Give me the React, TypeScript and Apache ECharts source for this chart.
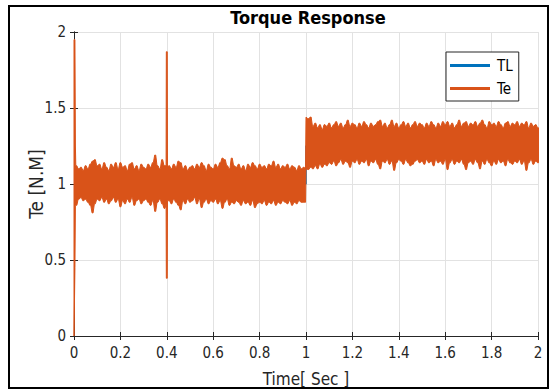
import { useEffect, useRef } from "react";
import * as echarts from "echarts";

// Axis ticks
const xTickValues = [0, 0.2, 0.4, 0.6, 0.8, 1, 1.2, 1.4, 1.6, 1.8, 2];
const yTickValues = [0, 0.5, 1, 1.5, 2];

// Load torque TL (step at t = 1 s)
const tlTime = [0, 1, 1, 2];
const tlValue = [1, 1, 1.25, 1.25];

// Electromagnetic torque Te: noise band envelope sampled every 0.01 s, t = 0.01 .. 2.00
const teGridStart = 0.01;
const teGridStep = 0.01;
const teUpper = [
  1.12, 1.10, 1.11, 1.09, 1.12, 1.10, 1.13, 1.15, 1.16, 1.12,
  1.13, 1.10, 1.14, 1.11, 1.09, 1.13, 1.11, 1.14, 1.10, 1.14,
  1.11, 1.12, 1.09, 1.13, 1.14, 1.10, 1.12, 1.09, 1.13, 1.11,
  1.10, 1.13, 1.11, 1.14, 1.19, 1.12, 1.10, 1.16, 1.12, 1.87,
  1.12, 1.10, 1.13, 1.11, 1.15, 1.14, 1.10, 1.12, 1.09, 1.11,
  1.12, 1.10, 1.13, 1.11, 1.14, 1.12, 1.09, 1.13, 1.11, 1.10,
  1.13, 1.11, 1.14, 1.17, 1.16, 1.12, 1.10, 1.17, 1.12, 1.11,
  1.13, 1.10, 1.12, 1.09, 1.13, 1.11, 1.14, 1.12, 1.10, 1.13,
  1.11, 1.12, 1.10, 1.13, 1.12, 1.15, 1.11, 1.13, 1.10, 1.12,
  1.11, 1.13, 1.10, 1.12, 1.11, 1.09, 1.12, 1.10, 1.11, 1.44,
  1.43, 1.44, 1.38, 1.40, 1.37, 1.39, 1.36, 1.39, 1.38, 1.40,
  1.37, 1.39, 1.41, 1.38, 1.40, 1.37, 1.39, 1.42, 1.38, 1.40,
  1.39, 1.37, 1.40, 1.38, 1.41, 1.39, 1.37, 1.40, 1.38, 1.39,
  1.41, 1.42, 1.38, 1.40, 1.37, 1.39, 1.42, 1.38, 1.40, 1.37,
  1.39, 1.41, 1.38, 1.40, 1.37, 1.39, 1.41, 1.38, 1.40, 1.39,
  1.37, 1.40, 1.38, 1.41, 1.39, 1.37, 1.40, 1.38, 1.41, 1.39,
  1.41, 1.38, 1.40, 1.37, 1.39, 1.42, 1.38, 1.40, 1.41, 1.38,
  1.40, 1.39, 1.41, 1.38, 1.40, 1.42, 1.39, 1.37, 1.41, 1.39,
  1.40, 1.38, 1.41, 1.39, 1.37, 1.40, 1.41, 1.38, 1.40, 1.39,
  1.41, 1.38, 1.40, 1.39, 1.41, 1.37, 1.40, 1.38, 1.39, 1.37,
];
const teLower = [
  0.86, 0.90, 0.91, 0.89, 0.90, 0.88, 0.86, 0.81, 0.87, 0.90,
  0.89, 0.91, 0.88, 0.90, 0.87, 0.89, 0.91, 0.88, 0.90, 0.85,
  0.89, 0.87, 0.90, 0.88, 0.91, 0.86, 0.89, 0.90, 0.87, 0.89,
  0.90, 0.88, 0.86, 0.89, 0.82, 0.88, 0.90, 0.87, 0.84, 0.38,
  0.89, 0.87, 0.90, 0.88, 0.86, 0.83, 0.89, 0.87, 0.90, 0.88,
  0.89, 0.91, 0.87, 0.90, 0.845, 0.88, 0.90, 0.87, 0.89, 0.88,
  0.90, 0.87, 0.89, 0.84, 0.88, 0.90, 0.86, 0.88, 0.87, 0.89,
  0.88, 0.86, 0.89, 0.87, 0.88, 0.86, 0.89, 0.845, 0.87, 0.88,
  0.87, 0.89, 0.86, 0.88, 0.87, 0.89, 0.86, 0.88, 0.87, 0.89,
  0.88, 0.87, 0.89, 0.86, 0.88, 0.87, 0.89, 0.88, 0.88, 1.10,
  1.095, 1.11, 1.10, 1.12, 1.10, 1.13, 1.11, 1.13, 1.12, 1.14,
  1.13, 1.15, 1.12, 1.14, 1.16, 1.13, 1.15, 1.14, 1.11, 1.15,
  1.14, 1.16, 1.13, 1.15, 1.14, 1.16, 1.12, 1.15, 1.14, 1.16,
  1.13, 1.10, 1.15, 1.14, 1.16, 1.13, 1.15, 1.09, 1.14, 1.16,
  1.15, 1.13, 1.16, 1.14, 1.12, 1.13, 1.15, 1.16, 1.14, 1.15,
  1.13, 1.16, 1.14, 1.15, 1.12, 1.16, 1.14, 1.15, 1.13, 1.16,
  1.095, 1.14, 1.16, 1.13, 1.15, 1.14, 1.16, 1.13, 1.095, 1.14,
  1.15, 1.13, 1.16, 1.14, 1.10, 1.15, 1.13, 1.16, 1.14, 1.12,
  1.15, 1.13, 1.16, 1.14, 1.15, 1.12, 1.16, 1.14, 1.13, 1.15,
  1.14, 1.16, 1.13, 1.15, 1.09, 1.14, 1.16, 1.13, 1.15, 1.14,
];
// Transients: [time, upper, lower] (start-up, disturbance spike at 0.4 s, load step edge)
const teEvents = [
  [0, 1.95, 0],
  [0.004, 1.95, 0.45],
  [0.006, 1.25, 0.86],
  [0.397, 1.12, 0.87],
  [0.398, 1.87, 0.38],
  [0.402, 1.87, 0.38],
  [0.403, 1.11, 0.89],
  [0.998, 1.1, 0.88],
];

const TE_COLOR = "#D95319";
const TL_COLOR = "#0072BD";
const AXIS_COLOR = "#262626";
const FONT = "'Liberation Sans Narrow', 'DejaVu Sans Condensed', 'Liberation Sans', Arial, sans-serif";

export default function App() {
  const ref = useRef<HTMLDivElement>(null);

  useEffect(() => {
    if (!ref.current) return;
    const chart = echarts.init(ref.current, undefined, { renderer: "svg" });

    // Grid samples are held for a short plateau (sample-and-hold look of the simulation trace)
    const half = 0.0022;
    const tePoints: number[][] = [];
    teUpper.forEach((u, i) => {
      const t = Math.round((teGridStart + i * teGridStep) * 1000) / 1000;
      const isEdge = t === 0.4 || t === 1;
      if (isEdge) {
        tePoints.push([t, u, teLower[i]]);
      } else {
        tePoints.push([t - half, u, teLower[i]]);
        tePoints.push([t + half, u, teLower[i]]);
      }
    });
    teEvents.forEach((e) => tePoints.push(e));
    tePoints.sort((a, b) => a[0] - b[0]);

    const tlData = tlTime.map((t, i) => [t, tlValue[i]]);

    const axisCommon = {
      axisLine: { show: true, lineStyle: { color: AXIS_COLOR, width: 1 } },
      axisTick: { show: true, inside: true, length: 4, lineStyle: { color: AXIS_COLOR } },
    };

    chart.setOption({
      animation: false,
      backgroundColor: "#ffffff",
      grid: { left: 74, right: 14, top: 32, bottom: 55 },
      legend: {
        data: [
          { name: "TL", icon: "rect" },
          { name: "Te", icon: "rect" },
        ],
        orient: "vertical",
        left: 446,
        top: 52,
        itemWidth: 40,
        itemHeight: 3,
        itemGap: 8,
        padding: [6, 6, 5, 4],
        backgroundColor: "#ffffff",
        borderColor: AXIS_COLOR,
        borderWidth: 1,
        borderRadius: 0,
        selectedMode: false,
        textStyle: { fontFamily: FONT, fontSize: 15, color: "#000", padding: [0, 0, 0, 2] },
      },
      xAxis: [
        {
          type: "value",
          min: 0,
          max: 2,
          interval: 0.2,
          position: "bottom",
          ...axisCommon,
          axisLabel: { margin: 9, fontFamily: FONT, fontSize: 15, color: AXIS_COLOR },
          splitLine: { show: true, lineStyle: { color: "#e2e2e2", width: 1 } },
          name: "Time[ Sec ]",
          nameLocation: "middle",
          nameGap: 34,
          nameMoveOverlap: false,
          nameTextStyle: { fontFamily: FONT, fontSize: 17, color: AXIS_COLOR },
        },
        {
          type: "value",
          min: 0,
          max: 2,
          interval: 0.2,
          position: "top",
          ...axisCommon,
          axisLabel: { show: false },
          splitLine: { show: false },
        },
      ],
      yAxis: [
        {
          type: "value",
          min: 0,
          max: 2,
          interval: 0.5,
          position: "left",
          ...axisCommon,
          axisLabel: { margin: 8, fontFamily: FONT, fontSize: 15, color: AXIS_COLOR },
          splitLine: { show: true, lineStyle: { color: "#e2e2e2", width: 1 } },
          name: "Te [N.M]",
          nameLocation: "middle",
          nameGap: 29,
          nameRotate: 90,
          nameMoveOverlap: false,
          nameTextStyle: { fontFamily: FONT, fontSize: 19, color: AXIS_COLOR },
        },
        {
          type: "value",
          min: 0,
          max: 2,
          interval: 0.5,
          position: "right",
          ...axisCommon,
          axisLabel: { show: false },
          splitLine: { show: false },
        },
      ],
      graphic: [
        {
          type: "text",
          x: 308,
          y: 8,
          style: {
            text: "Torque Response",
            fontFamily: FONT,
            fontSize: 18,
            fontWeight: "bold",
            fill: "#000",
            textAlign: "center",
            textVerticalAlign: "top",
          },
        },
        {
          type: "rect",
          shape: { x: 9, y: 6, width: 539, height: 382 },
          style: { fill: "none", stroke: "#000", lineWidth: 2 },
          z: 100,
        },
      ],
      series: [
        {
          name: "TL",
          type: "line",
          data: tlData,
          showSymbol: false,
          symbol: "none",
          lineStyle: { color: TL_COLOR, width: 1.5 },
          itemStyle: { color: TL_COLOR },
          z: 2,
        },
        {
          name: "Te",
          type: "custom",
          coordinateSystem: "cartesian2d",
          data: [[0, 0]],
          itemStyle: { color: TE_COLOR },
          z: 3,
          renderItem: (_params: any, api: any) => {
            const up = tePoints.map((p) => api.coord([p[0], p[1]]));
            const lo = tePoints
              .slice()
              .reverse()
              .map((p) => api.coord([p[0], p[2]]));
            return {
              type: "polygon",
              shape: { points: up.concat(lo) },
              style: { fill: TE_COLOR, stroke: TE_COLOR, lineWidth: 1, lineJoin: "miter" },
            };
          },
        },
      ],
    });

    return () => chart.dispose();
  }, []);

  return (
    <div
      ref={ref}
      style={{ position: "absolute", left: 0, top: 0, width: 552, height: 392, background: "#fff" }}
    />
  );
}
